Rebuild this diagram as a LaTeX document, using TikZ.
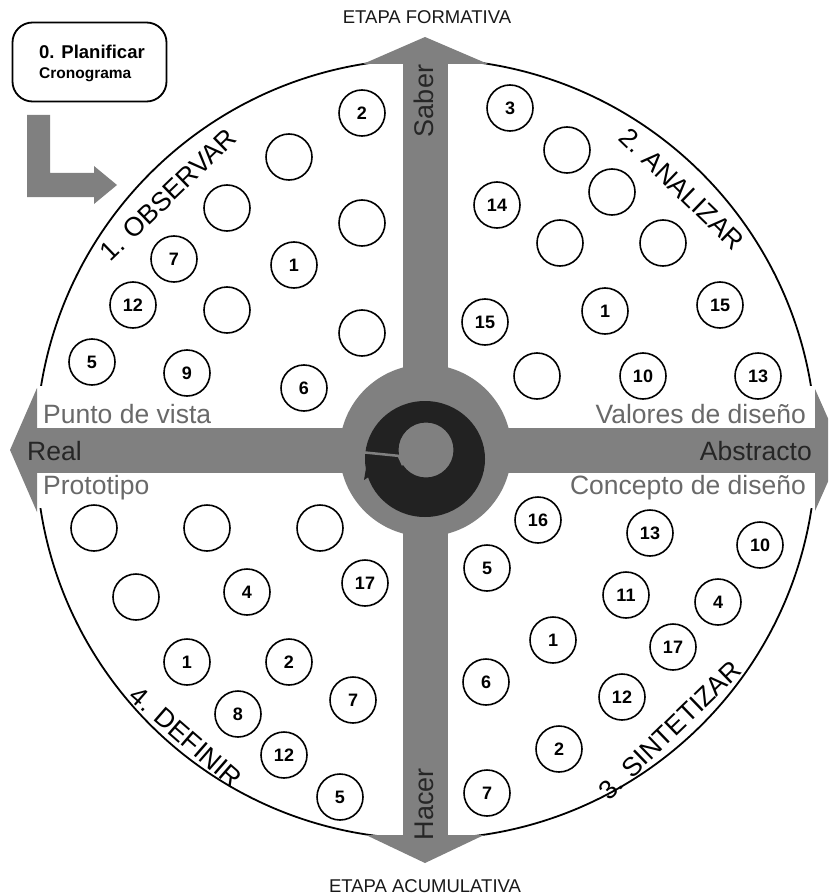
\documentclass[tikz,border=0pt]{standalone}
\usepackage{fontspec}
\setmainfont{Liberation Sans}
\usetikzlibrary{calc}
\definecolor{bargray}{RGB}{128,128,128}
\definecolor{labgray}{RGB}{105,105,105}
\definecolor{dark}{RGB}{38,38,38}
\definecolor{ringc}{RGB}{34,34,34}
\begin{document}
\begin{tikzpicture}[x=1pt,y=-1pt,
 num/.style={circle,draw=black,line width=1.6pt,minimum size=46pt,inner sep=0pt,fill=white,font=\fontsize{18}{18}\selectfont\bfseries},
 title/.style={font=\fontsize{26.5}{26.5}\selectfont, inner sep=0pt},
 side/.style={font=\fontsize{26.5}{26.5}\selectfont, text=labgray, inner sep=0pt},
 axislab/.style={font=\fontsize{26.5}{26.5}\selectfont, text=dark, inner sep=0pt},
 vert/.style={font=\fontsize{27}{27}\selectfont, text=dark, inner sep=0pt, rotate=90},
 stage/.style={font=\fontsize{18.5}{18.5}\selectfont, text=black!90, inner sep=0pt},
 barfill/.style={fill=bargray, draw=none}]
\useasboundingbox (0,0) rectangle (828,896);
\clip (0,0) rectangle (828,896);
\fill[white] (0,0) rectangle (828,896);

% big circle
\coordinate (C) at (426,449);
\draw[line width=1.8pt, fill=white] (C) circle[radius=390pt];

% white label strips
\fill[white] (37,386) rectangle (230,428);
\fill[white] (37,473) rectangle (160,508);
\fill[white] (580,386) rectangle (815,428);
\fill[white] (555,473) rectangle (815,508);

% bars and arrow heads
\path[barfill] (403,64) rectangle (448,835);
\path[barfill] (37,428) rectangle (815,473);
\path[barfill] (363,64) -- (425,37) -- (488,64) -- cycle;
\path[barfill] (366,835) -- (425,863) -- (484,835) -- cycle;
\path[barfill] (37,388) -- (10,450) -- (37,512) -- cycle;
\path[barfill] (815,389) -- (842,450) -- (815,511) -- cycle;

% centre
\path[barfill] (425.5,450.5) circle[radius=86pt];
\fill[ringc, even odd rule] (425,459) ellipse[x radius=60pt, y radius=58pt] (426,450) circle[radius=27.5pt];
\draw[bargray, line width=2.5pt] (360,452) -- (400,456);
\fill[bargray] (397,455) -- (409,456) -- (402,466) -- cycle;
\fill[ringc] (368,456) -- (364,480) -- (382,468) -- cycle;

% bar texts
\node[axislab, anchor=base west] (real) at (27,460) {Real};
\node[axislab, anchor=base east] (abs) at (812,460) {Abstracto};
\node[side, anchor=base west] (pv) at (43,423) {Punto de vista};
\node[side, anchor=base east] (vd) at (806,423) {Valores de diseño};
\node[side, anchor=base west] (pr) at (43,494) {Prototipo};
\node[side, anchor=base east] (cd) at (806,494) {Concepto de diseño};
\node[vert] (saber) at (424,101) {Saber};
\node[vert] (hacer) at (424,804) {Hacer};
\node[stage] (ef) at (427,17) {ETAPA FORMATIVA};
\node[stage] (ea) at (425,886) {ETAPA ACUMULATIVA};

% quadrant titles
\node[title, rotate=44] (t1) at (168,195) {1. OBSERVAR};
\node[title, rotate=-44] (t2) at (682,189) {2. ANALIZAR};
\node[title, rotate=44] (t3) at (670,730) {3. SINTETIZAR};
\node[title, rotate=-41] (t4) at (186,737) {4. DEFINIR};

% circles
\foreach \x/\y/\t/\n in {
 362/113/2/a1, 289/157//a2, 227/208//a3, 362/223//a4, 174/259/7/a5, 294/265/1/a6,
 133/305/12/a7, 227/310//a8, 362/333//a9, 92/362/5/a10, 187/373/9/a11, 304/388/6/a12,
 510/108/3/b1, 567/150//b2, 612/192//b3, 497/205/14/b4, 560/243//b5, 663/243//b6,
 485/322/15/b7, 605/311/1/b8, 720/305/15/b9, 537/376//b10, 643/376/10/b11, 758/376/13/b12,
 538/520/16/c1, 650/533/13/c2, 760/545/10/c3, 487/568/5/c4, 626/595/11/c5, 718/602/4/c6,
 553/640/1/c7, 673/647/17/c8, 486/682/6/c9, 622/697/12/c10, 559/749/2/c11, 487/793/7/c12,
 94/528//d1, 207/528//d2, 320/528//d3, 136/597//d4, 247/592/4/d5, 365/583/17/d6,
 187/662/1/d7, 289/662/2/d8, 353/700/7/d9, 238/714/8/d10, 284/755/12/d11, 340/797/5/d12}
 {\node[num] (\n) at (\x,\y) {\t};}

% plan box and L arrow
\node[draw, line width=1.8pt, rounded corners=20pt, minimum width=154pt, minimum height=79pt, inner sep=0pt] (plan) at (89.5,62) {};
\node[anchor=base west, inner sep=0pt, font=\fontsize{18.5}{18.5}\selectfont\bfseries] (plant) at (39,59) {0. Planificar};
\node[anchor=base west, inner sep=0pt, font=\fontsize{15.5}{15.5}\selectfont\bfseries] (crono) at (39,79) {Cronograma};
\path[barfill] (27,115) -- (50,115) -- (50,173) -- (94,173) -- (94,166) -- (117,185) -- (94,204) -- (94,197) -- (27,197) -- cycle;
\end{tikzpicture}
\end{document}
